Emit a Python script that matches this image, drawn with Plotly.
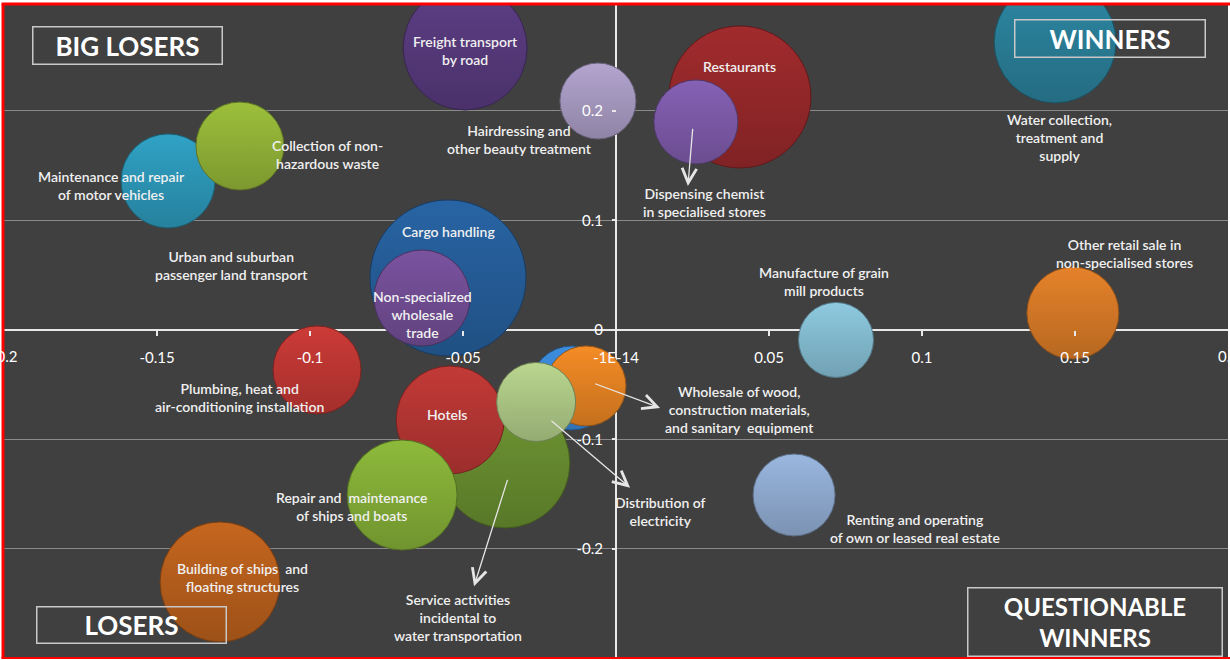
import plotly.graph_objects as go

# ---- data -------------------------------------------------------------
sectors = [
    "Cargo handling",
    "Restaurants",
    "Service activities incidental to water transportation",
    "Freight transport by road",
    "Water collection, treatment and supply",
    "Building of ships and floating structures",
    "Hotels",
    "Repair and maintenance of ships and boats",
    "Non-specialized wholesale trade",
    "Maintenance and repair of motor vehicles",
    "Collection of non-hazardous waste",
    "Plumbing, heat and air-conditioning installation",
    "Other retail sale in non-specialised stores",
    "Dispensing chemist in specialised stores",
    "Renting and operating of own or leased real estate",
    "Wholesale trade (other)",
    "Wholesale of wood, construction materials, and sanitary equipment",
    "Distribution of electricity",
    "Hairdressing and other beauty treatment",
    "Manufacture of grain mill products",
]
x_change = [-0.0549, 0.0405, -0.0363, -0.0493, 0.1435, -0.1294, -0.0542, -0.0699,
            -0.0634, -0.1464, -0.1229, -0.0977, 0.1493, 0.0261, 0.0582, -0.0144,
            -0.0098, -0.0261, -0.0059, 0.0719]
y_change = [0.0475, 0.2128, -0.1215, 0.2575, 0.2630, -0.2301, -0.0822, -0.1507,
            0.0292, 0.1361, 0.1680, -0.0365, 0.0155, 0.1900, -0.1507, -0.0530,
            -0.0511, -0.0658, 0.2091, -0.0091]
bubble_size = [156, 142, 130, 124, 122, 120, 108, 110, 96, 94, 88, 88, 92, 84, 82,
               84, 80, 79, 76, 75]

x_ticks = [-0.2, -0.15, -0.1, -0.05, 0, 0.05, 0.1, 0.15, 0.2]
x_tick_text = ["-0.2", "-0.15", "-0.1", "-0.05", "-1E-14", "0.05", "0.1", "0.15", "0.2"]
y_ticks = [-0.3, -0.2, -0.1, 0, 0.1, 0.2, 0.3]
y_tick_text = ["-0.3", "-0.2", "-0.1", "0", "0.1", "0.2", "0.3"]

# ---- styling ------------------------------------------------------------
bubble_colors = ["#2864a4", "#a12b2d", "#6e9633", "#5d3e85", "#2d88a3", "#c5661f",
                 "#c23a37", "#8dba3b", "#7a539f", "#30a2c5", "#9cbf3b", "#cc3b37",
                 "#e5822a", "#8661b5", "#9ab7df", "#3d8ee0", "#f58c26", "#bad68f",
                 "#b3a5cf", "#8ecae0"]


def shade(hex_color, f):
    h = hex_color.lstrip("#")
    r, g, b = (int(h[i:i + 2], 16) for i in (0, 2, 4))
    return "#%02x%02x%02x" % (int(r * f), int(g * f), int(b * f))


BG = "#404040"
TXT = "#f0f0f0"
FONT = "Lato"

# label text and where it sits (data coordinates)
labels = [
    ("Freight transport<br>by road", -0.0493, 0.2555),
    ("Hairdressing and<br>other beauty treatment", -0.0314, 0.1735),
    ("Restaurants", 0.0405, 0.2410),
    ("Dispensing chemist<br>in specialised stores", 0.0290, 0.1160),
    ("Water collection,<br>treatment and<br>supply", 0.1450, 0.1760),
    ("Maintenance and repair<br>of motor vehicles", -0.1650, 0.1320),
    ("Collection of non-<br>hazardous waste", -0.0944, 0.1600),
    ("Urban and suburban<br>passenger land transport", -0.1255, 0.0585),
    ("Cargo handling", -0.0549, 0.0895),
    ("Non-specialized<br>wholesale<br>trade", -0.0634, 0.0137),
    ("Plumbing, heat and<br>air-conditioning installation", -0.1229, -0.0621),
    ("Hotels", -0.0552, -0.0776),
    ("Service activities<br>incidental to<br>water transportation", -0.0516, -0.2630),
    ("Repair and  maintenance<br>of ships and boats", -0.0863, -0.1616),
    ("Building of ships  and<br>floating structures", -0.1219, -0.2265),
    ("Wholesale of wood,<br>construction materials,<br>and sanitary  equipment", 0.0405, -0.0730),
    ("Distribution of<br>electricity", 0.0147, -0.1660),
    ("Manufacture of grain<br>mill products", 0.0680, 0.0447),
    ("Other retail sale in<br>non-specialised stores", 0.1663, 0.0694),
    ("Renting and operating<br>of own or leased real estate", 0.0977, -0.1810),
]

# leader arrows: (sector, tail offset from bubble centre, arrow tip)
arrows = [
    ("Dispensing chemist in specialised stores", (-0.001, -0.005), (0.0235, 0.1315)),
    ("Wholesale of wood, construction materials, and sanitary equipment",
     (0.0025, 0.0025), (0.0144, -0.0712)),
    ("Distribution of electricity", (0.0045, -0.016), (0.0046, -0.1440)),
    ("Service activities incidental to water transportation",
     (0.001, -0.014), (-0.0464, -0.2340)),
]

fig = go.Figure()
fig.add_trace(go.Scatter(
    x=x_change, y=y_change, mode="markers", text=sectors, hoverinfo="text",
    marker=dict(
        size=bubble_size, sizemode="diameter", sizeref=1,
        color=bubble_colors, opacity=1,
        gradient=dict(type="vertical", color=[shade(c, 0.8) for c in bubble_colors]),
        line=dict(width=1, color=[shade(c, 0.6) for c in bubble_colors]),
    ),
    showlegend=False,
))

annotations = []
for text, lx, ly in labels:
    annotations.append(dict(
        x=lx, y=ly, xref="x", yref="y", text=text, showarrow=False,
        font=dict(family=FONT, size=14, color=TXT, weight=600),
    ))

for name, (dx, dy), (tx, ty) in arrows:
    i = sectors.index(name)
    annotations.append(dict(
        x=tx, y=ty, xref="x", yref="y",
        ax=x_change[i] + dx, ay=y_change[i] + dy, axref="x", ayref="y",
        text="", showarrow=True, arrowhead=5, arrowsize=2.2, arrowwidth=1.3,
        arrowcolor="#e6e6e6", standoff=0, startstandoff=0,
    ))

# quadrant captions (paper coordinates)
quadrants = [
    ("BIG LOSERS", 0.1013, 0.9366, 186, 34, 26),
    ("WINNERS", 0.8036, 0.9473, 187, 34, 26),
    ("LOSERS", 0.1038, 0.0519, 186, 33, 26),
    ("QUESTIONABLE<br>WINNERS", 0.8913, 0.0565, 251, 65, 24),
]
# WINNERS box sits at the top-right corner
quadrants[1] = ("WINNERS", (1110 - 4) / 1224, 1 - (38.5 - 4) / 655, 187, 34, 26)
quadrants[2] = ("LOSERS", (131 - 4) / 1224, 1 - (625 - 4) / 655, 186, 33, 26)
quadrants[3] = ("QUESTIONABLE<br>WINNERS", (1095 - 4) / 1224, 1 - (622 - 4) / 655, 251, 65, 24)

for text, qx, qy, w, h, fs in quadrants:
    annotations.append(dict(
        x=qx, y=qy, xref="paper", yref="paper", xanchor="center", yanchor="middle",
        text=text, showarrow=False,
        width=w, height=h, bordercolor="#c8c8c8", borderwidth=1.5, borderpad=1,
        font=dict(family=FONT, size=fs, color="#ffffff", weight="bold"),
    ))

y_lo, y_hi = -0.3005, 0.2977
x_lo, x_hi = -0.2, 0.2

# end-of-range tick labels that run off the page edge
tick_font = dict(family=FONT, size=15, color="#ffffff")
for v, t in ((x_ticks[0], x_tick_text[0]), (x_ticks[-1], x_tick_text[-1])):
    annotations.append(dict(x=v, y=0, xref="x", yref="y", text=t, showarrow=False,
                            xanchor="center", yanchor="top", yshift=-15, font=tick_font))
annotations.append(dict(x=0, y=y_ticks[-1], xref="x", yref="y", text=y_tick_text[-1],
                        showarrow=False, xanchor="right", yanchor="middle", xshift=-12,
                        font=tick_font))

fig.update_layout(
    width=1230, height=660,
    margin=dict(l=4, r=2, t=4, b=1),
    paper_bgcolor="#ffffff",
    plot_bgcolor=BG,
    annotations=annotations,
    xaxis=dict(
        range=[x_lo, x_hi], anchor="free",
        position=(0 - y_lo) / (y_hi - y_lo),
        tickmode="array", tickvals=x_ticks[1:-1], ticktext=x_tick_text[1:-1],
        ticks="outside", ticklen=5, tickwidth=2, tickcolor="#e8e8e8",
        ticklabelstandoff=9,
        tickfont=tick_font,
        showline=False, showgrid=False,
        zeroline=True, zerolinecolor="#e8e8e8", zerolinewidth=2,
    ),
    yaxis=dict(
        range=[y_lo, y_hi], anchor="free",
        position=(0 - x_lo) / (x_hi - x_lo),
        tickmode="array", tickvals=y_ticks, ticktext=y_tick_text,
        ticks="outside", ticklen=4, tickwidth=2, tickcolor="#e8e8e8",
        ticklabelstandoff=6,
        tickfont=tick_font,
        showline=False, showgrid=True, gridcolor="#8a8a8a", gridwidth=1,
        zeroline=True, zerolinecolor="#e8e8e8", zerolinewidth=2,
    ),
    shapes=[
        dict(type="line", xref="paper", yref="paper", x0=-0.002, x1=1.01, y0=1, y1=1,
             line=dict(color="#ff0000", width=3)),
        dict(type="line", xref="paper", yref="paper", x0=-0.0008, x1=-0.0008, y0=0, y1=1,
             line=dict(color="#ff0000", width=3)),
        dict(type="line", xref="paper", yref="paper", x0=-0.002, x1=1.01, y0=0.0015, y1=0.0015,
             line=dict(color="#ff0000", width=2)),
    ],
)

fig.write_html("out.html")
